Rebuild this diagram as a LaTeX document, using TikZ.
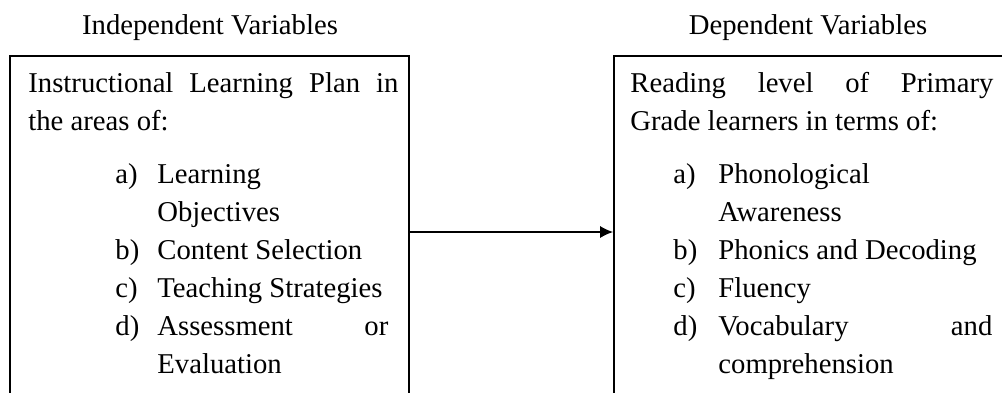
\documentclass[tikz,border=0pt]{standalone}
\usepackage{fontspec}
\setmainfont{Liberation Serif}
\usetikzlibrary{arrows.meta}
\tikzset{
    varbox/.style={draw, line width=0.8pt, inner sep=0pt,
                   minimum height=176pt},
    head/.style={font=\fontsize{14.35}{17}\selectfont, anchor=base,
                 inner sep=0pt},
    txt/.style={font=\fontsize{14.35}{17}\selectfont, anchor=base west,
                inner sep=0pt},
    flow/.style={-{Latex[length=6.5pt,width=6pt]}, line width=0.8pt},
}

\begin{document}
\begin{tikzpicture}[x=0.5pt, y=-0.5pt]

    \useasboundingbox (0,0) rectangle (1002,392);

    % headings
    \node[head] (indep) at (210,34) {Independent Variables};
    \node[head] (dep) at (808,34) {Dependent Variables};

    % the two boxes, cut off at the bottom (and right) edge
    \node[varbox, minimum width=199.5pt] (ivbox) at (209.5,232) {};
    \node[varbox, minimum width=195pt] (dvbox) at (809,232) {};

    % independent variables
    \node[txt] (ivl1) at (28,92) {\makebox[185pt][s]{Instructional Learning Plan in}};
    \node[txt] (ivl2) at (28,130) {the areas of:};
    \node[txt] (iva) at (115,183) {a)};
    \node[txt] (iva1) at (157,183) {Learning};
    \node[txt] (iva2) at (157,221) {Objectives};
    \node[txt] (ivb) at (115,259) {b)};
    \node[txt] (ivb1) at (157,259) {Content Selection};
    \node[txt] (ivc) at (115,297) {c)};
    \node[txt] (ivc1) at (157,297) {Teaching Strategies};
    \node[txt] (ivd) at (115,335) {d)};
    \node[txt] (ivd1) at (157,335) {\makebox[115.5pt][s]{Assessment or}};
    \node[txt] (ivd2) at (157,373) {Evaluation};

    % dependent variables
    \node[txt] (dvl1) at (630,92) {\makebox[181.5pt][s]{Reading level of Primary}};
    \node[txt] (dvl2) at (630,130) {Grade learners in terms of:};
    \node[txt] (dva) at (673,183) {a)};
    \node[txt] (dva1) at (718,183) {Phonological};
    \node[txt] (dva2) at (718,221) {Awareness};
    \node[txt] (dvb) at (673,259) {b)};
    \node[txt] (dvb1) at (718,259) {Phonics and Decoding};
    \node[txt] (dvc) at (673,297) {c)};
    \node[txt] (dvc1) at (718,297) {Fluency};
    \node[txt] (dvd) at (673,335) {d)};
    \node[txt] (dvd1) at (718,335) {\makebox[137pt][s]{Vocabulary and}};
    \node[txt] (dvd2) at (718,373) {comprehension};

    \draw[flow] (ivbox) -- (dvbox);

\end{tikzpicture}
\end{document}
